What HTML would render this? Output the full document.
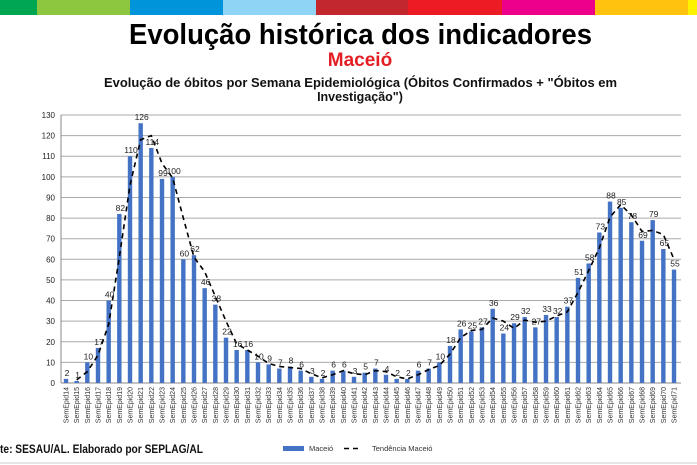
<!DOCTYPE html>
<html><head><meta charset="utf-8"><style>
html,body{margin:0;padding:0;background:#fff;width:697px;height:465px;overflow:hidden}
svg{display:block;font-family:"Liberation Sans",Arial,sans-serif}
</style></head><body>
<svg id="s" width="697" height="465" viewBox="0 0 697 465">
<rect x="0" y="0" width="37" height="15" fill="#00a651"/>
<rect x="37" y="0" width="93" height="15" fill="#8dc63f"/>
<rect x="130" y="0" width="93" height="15" fill="#0095da"/>
<rect x="223" y="0" width="93" height="15" fill="#8fd3f5"/>
<rect x="316" y="0" width="92" height="15" fill="#c1272d"/>
<rect x="408" y="0" width="94" height="15" fill="#ed1c24"/>
<rect x="502" y="0" width="93" height="15" fill="#ec008c"/>
<rect x="595" y="0" width="93" height="15" fill="#ffc20e"/>
<rect x="688" y="0" width="9" height="15" fill="#fff200"/>
<text x="129" y="44" textLength="463" lengthAdjust="spacingAndGlyphs" font-size="29" font-weight="bold" fill="#000">Evolução histórica dos indicadores</text>
<text x="360" y="66" text-anchor="middle" font-size="19" font-weight="bold" fill="#e31e24">Maceió</text>
<text x="104" y="87" textLength="513" lengthAdjust="spacingAndGlyphs" font-size="12.5" font-weight="bold" fill="#111">Evolução de óbitos por Semana Epidemiológica (Óbitos Confirmados + "Óbitos em</text>
<text x="360" y="101" text-anchor="middle" font-size="12.5" font-weight="bold" fill="#111">Investigação")</text>
<g id="grid"></g>
<g id="yl" font-size="8" fill="#222" text-anchor="end">
<text>0</text><text>10</text><text>20</text><text>30</text><text>40</text><text>50</text><text>60</text><text>70</text><text>80</text><text>90</text><text>100</text><text>110</text><text>120</text><text>130</text>
</g>
<g id="bars"></g>
<polyline id="trend" fill="none" stroke="#000" stroke-width="1.6" stroke-dasharray="5,4"/>
<g id="vl" font-size="8.5" fill="#222" text-anchor="middle">
<text>2</text><text>1</text><text>10</text><text>17</text><text>40</text><text>82</text><text>110</text><text>126</text><text>114</text><text>99</text><text>100</text><text>60</text><text>62</text><text>46</text><text>38</text><text>22</text><text>16</text><text>16</text><text>10</text><text>9</text><text>7</text><text>8</text><text>6</text><text>3</text><text>2</text><text>6</text><text>6</text><text>3</text><text>5</text><text>7</text><text>4</text><text>2</text><text>2</text><text>6</text><text>7</text><text>10</text><text>18</text><text>26</text><text>25</text><text>27</text><text>36</text><text>24</text><text>29</text><text>32</text><text>27</text><text>33</text><text>32</text><text>37</text><text>51</text><text>58</text><text>73</text><text>88</text><text>85</text><text>78</text><text>69</text><text>79</text><text>65</text><text>55</text>
</g>
<g id="xl" font-size="7" fill="#333" text-anchor="end">
<text>SemEpid14</text><text>SemEpid15</text><text>SemEpid16</text><text>SemEpid17</text><text>SemEpid18</text><text>SemEpid19</text><text>SemEpid20</text><text>SemEpid21</text><text>SemEpid22</text><text>SemEpid23</text><text>SemEpid24</text><text>SemEpid25</text><text>SemEpid26</text><text>SemEpid27</text><text>SemEpid28</text><text>SemEpid29</text><text>SemEpid30</text><text>SemEpid31</text><text>SemEpid32</text><text>SemEpid33</text><text>SemEpid34</text><text>SemEpid35</text><text>SemEpid36</text><text>SemEpid37</text><text>SemEpid38</text><text>SemEpid39</text><text>SemEpid40</text><text>SemEpid41</text><text>SemEpid42</text><text>SemEpid43</text><text>SemEpid44</text><text>SemEpid45</text><text>SemEpid46</text><text>SemEpid47</text><text>SemEpid48</text><text>SemEpid49</text><text>SemEpid50</text><text>SemEpid51</text><text>SemEpid52</text><text>SemEpid53</text><text>SemEpid54</text><text>SemEpid55</text><text>SemEpid56</text><text>SemEpid57</text><text>SemEpid58</text><text>SemEpid59</text><text>SemEpid60</text><text>SemEpid61</text><text>SemEpid62</text><text>SemEpid63</text><text>SemEpid64</text><text>SemEpid65</text><text>SemEpid66</text><text>SemEpid67</text><text>SemEpid68</text><text>SemEpid69</text><text>SemEpid70</text><text>SemEpid71</text>
</g>
<text x="0" y="453" textLength="203" lengthAdjust="spacingAndGlyphs" font-size="11.5" font-weight="bold" fill="#111">te: SESAU/AL. Elaborado por SEPLAG/AL</text>
<rect x="283" y="446" width="21" height="5" fill="#4472c4"/>
<text x="309" y="451" font-size="7.5" fill="#333">Maceió</text>
<line x1="344" y1="448.5" x2="362" y2="448.5" stroke="#000" stroke-width="1.6" stroke-dasharray="5,4"/>
<text x="372" y="451" font-size="7.5" fill="#333">Tendência Maceió</text>
<line x1="0" y1="463" x2="697" y2="463" stroke="#ccc"/>
</svg>
<script>
var d=[2,1,10,17,40,82,110,126,114,99,100,60,62,46,38,22,16,16,10,9,7,8,6,3,2,6,6,3,5,7,4,2,2,6,7,10,18,26,25,27,36,24,29,32,27,33,32,37,51,58,73,88,85,78,69,79,65,55];
var NS="http://www.w3.org/2000/svg";
var y0=383,k=268/130,L=61,R=681;
function X(i){return 66+i*10.667}
function Y(v){return y0-v*k}
var g=document.getElementById("grid");
for(var t=0;t<=13;t++){var l=document.createElementNS(NS,"line");l.setAttribute("x1",L);l.setAttribute("x2",R);l.setAttribute("y1",Y(t*10));l.setAttribute("y2",Y(t*10));l.setAttribute("stroke",t==0?"#888":"#aaa");l.setAttribute("stroke-width","1");g.appendChild(l);}
var lv=document.createElementNS(NS,"line");lv.setAttribute("x1",L);lv.setAttribute("x2",L);lv.setAttribute("y1",Y(130));lv.setAttribute("y2",y0);lv.setAttribute("stroke","#888");g.appendChild(lv);
var yl=document.getElementById("yl").children;
for(var t=0;t<yl.length;t++){yl[t].setAttribute("x",55);yl[t].setAttribute("y",Y(t*10)+3);}
var b=document.getElementById("bars");
d.forEach(function(v,i){var r=document.createElementNS(NS,"rect");r.setAttribute("x",X(i)-2.2);r.setAttribute("width",4.4);r.setAttribute("y",Y(v));r.setAttribute("height",v*k);r.setAttribute("fill","#4472c4");b.appendChild(r);});
var p=[];for(var i=1;i<d.length;i++){p.push(X(i)+","+Y((d[i]+d[i-1])/2));}
document.getElementById("trend").setAttribute("points",p.join(" "));
var vl=document.getElementById("vl").children;
for(var i=0;i<vl.length;i++){vl[i].setAttribute("x",X(i)+1);vl[i].setAttribute("y",Y(d[i])-3);}
var xl=document.getElementById("xl").children;
for(var i=0;i<xl.length;i++){var x=X(i)+2.5,y=387;xl[i].setAttribute("x",x);xl[i].setAttribute("y",y);xl[i].setAttribute("transform","rotate(-90 "+x+" "+y+")");}
</script>
</body></html>
